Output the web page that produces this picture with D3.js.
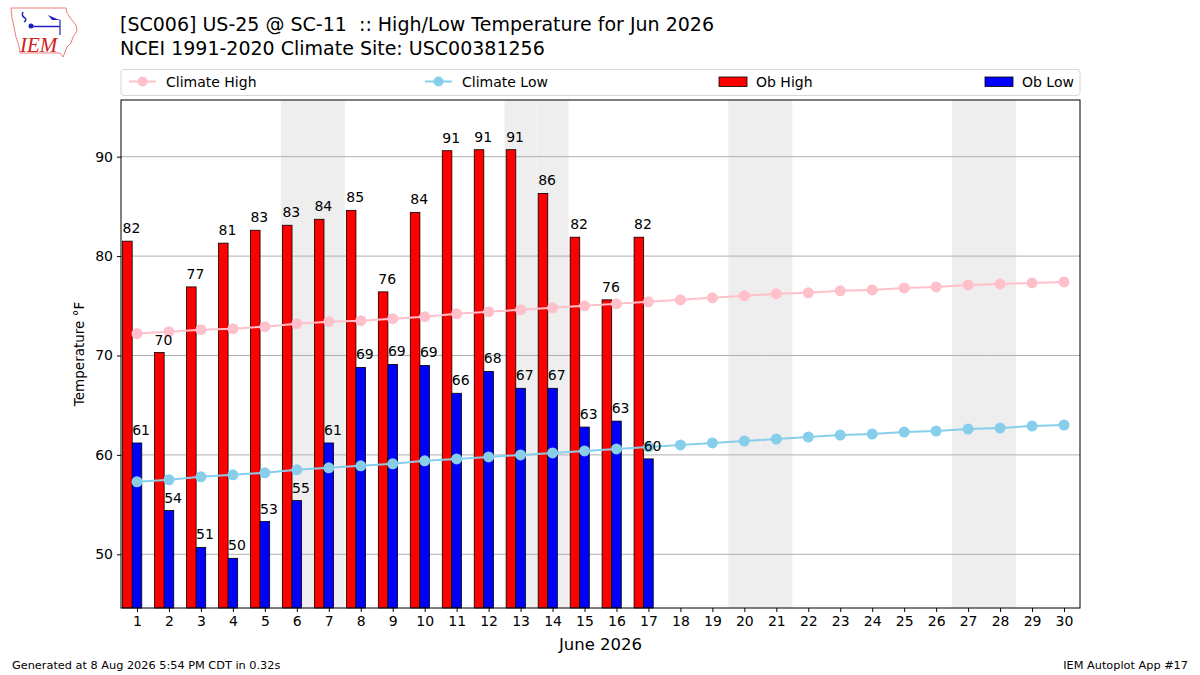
<!DOCTYPE html>
<html>
<head>
    <meta charset="utf-8">
    <title>High/Low Temperature</title>
    <style>
    body { margin: 0; background: #fff; }
    text { font-family: "DejaVu Sans", sans-serif; fill: #000; }
    .tick text { font-size: 14px; }
    .barlabel { font-size: 14px; }
    </style>
</head>
<body>
    <script src="https://cdn.jsdelivr.net/npm/d3@7/dist/d3.min.js"></script>
    <script>

    var days = d3.range(1, 31),
        obHigh = [81.5, 70.3, 76.9, 81.3, 82.6, 83.1, 83.7, 84.6, 76.4, 84.4, 90.6, 90.7, 90.7, 86.3, 81.9, 75.6, 81.9],
        obLow = [61.2, 54.4, 50.7, 49.6, 53.3, 55.4, 61.2, 68.8, 69.1, 69.0, 66.2, 68.4, 66.7, 66.7, 62.8, 63.4, 59.6],
        climateHigh = [72.2, 72.4, 72.6, 72.7, 72.9, 73.2, 73.4, 73.5, 73.7, 73.9, 74.2, 74.4, 74.6, 74.8, 75.0,
                       75.2, 75.4, 75.6, 75.8, 76.0, 76.2, 76.3, 76.5, 76.6, 76.8, 76.9, 77.1, 77.2, 77.3, 77.4],
        climateLow = [57.3, 57.5, 57.8, 58.0, 58.2, 58.5, 58.7, 58.9, 59.1, 59.4, 59.6, 59.8, 60.0, 60.2, 60.4,
                      60.6, 60.8, 61.0, 61.2, 61.4, 61.6, 61.8, 62.0, 62.1, 62.3, 62.4, 62.6, 62.7, 62.9, 63.0],
        yTicks = [50, 60, 70, 80, 90]

    var width = 1200,
        height = 675,
        margin = {left: 121, right: 120, top: 100, bottom: 67}

    var svg = d3.select('body').append('svg')
        .attr('width', width)
        .attr('height', height)

    var x = d3.scaleLinear().domain([0.5, 30.5]).range([margin.left, width - margin.right])
    var y = d3.scaleLinear().domain([44.6, 95.7]).range([height - margin.bottom, margin.top])
    var barW = x(0.3) - x(0)

    // weekend shading
    var weekends = days.filter(function(d){
        var wd = new Date(2026, 5, d).getDay()
        return wd === 0 || wd === 6
    })
    svg.append('g').selectAll('rect').data(weekends).enter().append('rect')
        .attr('x', function(d){ return x(d - 0.5) })
        .attr('width', x(1) - x(0))
        .attr('y', y.range()[1])
        .attr('height', y.range()[0] - y.range()[1])
        .attr('fill', '#eeeeee')

    // grid
    svg.append('g').selectAll('line').data(yTicks).enter().append('line')
        .attr('x1', x.range()[0]).attr('x2', x.range()[1])
        .attr('y1', function(d){ return y(d) }).attr('y2', function(d){ return y(d) })
        .attr('stroke', '#b0b0b0').attr('stroke-width', 1)

    // bars
    svg.append('g').selectAll('rect').data(obHigh).enter().append('rect')
        .attr('x', function(d, i){ return x(i + 1 - 0.45) })
        .attr('width', barW)
        .attr('y', function(d){ return y(d) })
        .attr('height', function(d){ return y.range()[0] - y(d) })
        .attr('fill', 'red').attr('stroke', '#000').attr('stroke-width', 0.8)

    svg.append('g').selectAll('rect').data(obLow).enter().append('rect')
        .attr('x', function(d, i){ return x(i + 1 - 0.15) })
        .attr('width', barW)
        .attr('y', function(d){ return y(d) })
        .attr('height', function(d){ return y.range()[0] - y(d) })
        .attr('fill', 'blue').attr('stroke', '#000').attr('stroke-width', 0.8)

    // climate lines
    function climo(data, color){
        var g = svg.append('g')
        g.append('path').datum(data)
            .attr('d', d3.line().x(function(d, i){ return x(i + 1) }).y(function(d){ return y(d) }))
            .attr('fill', 'none').attr('stroke', color).attr('stroke-width', 2)
        g.selectAll('circle').data(data).enter().append('circle')
            .attr('cx', function(d, i){ return x(i + 1) })
            .attr('cy', function(d){ return y(d) })
            .attr('r', 5.5).attr('fill', color)
    }
    climo(climateHigh, 'pink')
    climo(climateLow, 'skyblue')

    // bar labels
    function labels(data, off){
        svg.append('g').selectAll('text').data(data).enter().append('text')
            .attr('class', 'barlabel')
            .attr('x', function(d, i){ return x(i + 1 + off) })
            .attr('y', function(d){ return y(d) - 8 })
            .text(function(d){ return Math.round(d) })
    }
    labels(obHigh, -0.45)
    labels(obLow, -0.15)

    // axes
    var xAxis = svg.append('g')
        .attr('transform', 'translate(0,' + y.range()[0] + ')')
        .call(d3.axisBottom(x).tickValues(days).tickFormat(d3.format('d')).tickSize(4).tickPadding(4))
    var yAxis = svg.append('g')
        .attr('transform', 'translate(' + x.range()[0] + ',0)')
        .call(d3.axisLeft(y).tickValues(yTicks).tickSize(4).tickPadding(4))
    xAxis.select('.domain').remove()
    yAxis.select('.domain').remove()
    svg.selectAll('.tick text').attr('fill', '#000')

    svg.append('rect')
        .attr('x', x.range()[0]).attr('y', y.range()[1])
        .attr('width', x.range()[1] - x.range()[0])
        .attr('height', y.range()[0] - y.range()[1])
        .attr('fill', 'none').attr('stroke', '#000').attr('stroke-width', 1)

    svg.append('text')
        .attr('transform', 'translate(84,' + ((y.range()[0] + y.range()[1]) / 2) + ') rotate(-90)')
        .attr('text-anchor', 'middle')
        .style('font-size', '13.5px')
        .text('Temperature °F')

    svg.append('text')
        .attr('x', (x.range()[0] + x.range()[1]) / 2).attr('y', 650)
        .attr('text-anchor', 'middle')
        .style('font-size', '16.5px')
        .text('June 2026')

    // titles
    svg.append('text').attr('x', 120).attr('y', 31).style('font-size', '19px')
        .attr('xml:space', 'preserve').style('white-space', 'pre')
        .text('[SC006] US-25 @ SC-11  :: High/Low Temperature for Jun 2026')
    svg.append('text').attr('x', 120).attr('y', 55).style('font-size', '19px')
        .text('NCEI 1991-2020 Climate Site: USC00381256')

    // legend
    var lg = svg.append('g')
    lg.append('rect')
        .attr('x', 121).attr('y', 69.5).attr('width', 959).attr('height', 26)
        .attr('rx', 3).attr('fill', '#fff').attr('stroke', '#d6d6d6')
    var items = [
        {label: 'Climate High', color: 'pink', type: 'line', x: 129},
        {label: 'Climate Low', color: 'skyblue', type: 'line', x: 425},
        {label: 'Ob High', color: 'red', type: 'bar', x: 719},
        {label: 'Ob Low', color: 'blue', type: 'bar', x: 985}
    ]
    items.forEach(function(it){
        if (it.type === 'line') {
            lg.append('line').attr('x1', it.x).attr('x2', it.x + 27).attr('y1', 81.5).attr('y2', 81.5)
                .attr('stroke', it.color).attr('stroke-width', 2)
            lg.append('circle').attr('cx', it.x + 13.5).attr('cy', 81.5).attr('r', 5).attr('fill', it.color)
        } else {
            lg.append('rect').attr('x', it.x).attr('y', 77).attr('width', 28).attr('height', 9.5)
                .attr('fill', it.color).attr('stroke', '#000').attr('stroke-width', 0.8)
        }
        lg.append('text').attr('x', it.x + 37).attr('y', 86.5).style('font-size', '14px').text(it.label)
    })

    // footer
    svg.append('text').attr('x', 12).attr('y', 669).style('font-size', '11.3px')
        .text('Generated at 8 Aug 2026 5:54 PM CDT in 0.32s')
    svg.append('text').attr('x', 1188).attr('y', 669).attr('text-anchor', 'end').style('font-size', '11.3px')
        .text('IEM Autoplot App #17')

    // IEM logo
    var logo = svg.append('g')
    logo.append('path')
        .attr('d', 'M11,8 L66,8 L67,13 L71,19 L76,25 L77,31 L73,37 L71,43 L67,47 L65,52 L63,57 L60,53 L20,53 L19,46 L16,37 L14,27 L12,18 Z')
        .attr('fill', 'none').attr('stroke', '#e88080').attr('stroke-width', 1)
    logo.append('path').attr('d', 'M23,12 Q21,16 25,18 Q27,20 24,22')
        .attr('fill', 'none').attr('stroke', '#2020c0').attr('stroke-width', 1.5)
    logo.append('circle').attr('cx', 31).attr('cy', 26).attr('r', 2.5).attr('fill', '#2020c0')
    logo.append('line').attr('x1', 31).attr('x2', 60).attr('y1', 26.5).attr('y2', 26.5)
        .attr('stroke', '#2020c0').attr('stroke-width', 1.5)
    logo.append('path').attr('d', 'M48,15 L57,19 L61,20 L52,20 Z').attr('fill', '#2020c0')
    logo.append('line').attr('x1', 60).attr('x2', 60).attr('y1', 20).attr('y2', 35)
        .attr('stroke', '#2020c0').attr('stroke-width', 1.2)
    logo.append('text').attr('x', 20).attr('y', 52)
        .style('font-family', '"Liberation Serif", serif').style('font-style', 'italic')
        .style('font-size', '21px').style('fill', '#d02020')
        .text('IEM')

    </script>
</body>
</html>
